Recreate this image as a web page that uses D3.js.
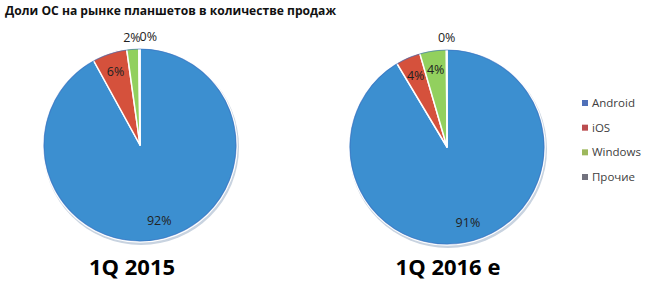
<!DOCTYPE html>
<html>
<head>
<meta charset="utf-8">
<script src="https://cdn.jsdelivr.net/npm/d3@7"></script>
<style>
  body { margin: 0; background: #fff; }
  text { font-family: "Open Sans", "Noto Sans", sans-serif; }
</style>
</head>
<body>
<div id="chart"></div>
<script>
// data
var osNames = ['Android', 'iOS', 'Windows', 'Прочие'];
var share2015 = [92.0, 5.8, 2.0, 0.2];
var share2016 = [91.4, 4.1, 4.4, 0.1];
var shareLabels2015 = ['92%', '6%', '2%', '0%'];
var shareLabels2016 = ['91%', '4%', '4%', '0%'];
var periods = ['1Q 2015', '1Q 2016 e'];
var title = 'Доли ОС на рынке планшетов в количестве продаж';

var pieColors = ['#3c8fd0', '#d5513c', '#92d05e', '#7c7c98'];
var legendColors = ['#4f70b8', '#bb4d50', '#9db85c', '#72727e'];

var w = 653, h = 284;
var svg = d3.select('#chart').append('svg')
    .attr('width', w)
    .attr('height', h);

svg.append('text')
    .attr('x', 5)
    .attr('y', 15)
    .attr('font-size', 12)
    .attr('font-weight', 'bold')
    .attr('fill', '#111')
    .attr('textLength', 331)
    .attr('lengthAdjust', 'spacingAndGlyphs')
    .text(title);

var color = d3.scaleOrdinal().domain(osNames).range(pieColors);

function drawPie(values, labels, cx, cy, r, period, px) {
    var rows = osNames.map(function(n, i) {
        return {name: n, value: values[i], label: labels[i]};
    });
    var pie = d3.pie().sort(null).value(function(d) { return d.value; });
    var arcs = pie(rows);
    var arc = d3.arc().innerRadius(0).outerRadius(r);

    var g = svg.append('g').attr('transform', 'translate(' + cx + ',' + cy + ')');

    // soft shadow under the pie
    g.append('circle')
        .attr('cx', 1).attr('cy', 2).attr('r', r + 1)
        .attr('fill', '#c8d3e0');

    g.selectAll('path.slice')
        .data(arcs)
        .enter().append('path')
            .attr('class', 'slice')
            .attr('d', arc)
            .attr('fill', function(d) { return color(d.data.name); })
            .attr('stroke', '#fff')
            .attr('stroke-width', 1.5)
            .attr('stroke-linejoin', 'round');

    // darker rim
    g.append('circle')
        .attr('r', r - 1)
        .attr('fill', 'none')
        .attr('stroke', '#3a6fc0')
        .attr('stroke-width', 1.2)
        .attr('opacity', 0.6);

    var prevBox = null;
    arcs.forEach(function(d) {
        var mid = (d.startAngle + d.endAngle) / 2;
        var outside = d.data.value < 3;
        var lr = outside ? r + 11 : r * 0.8;
        var x = Math.sin(mid) * lr;
        var y = -Math.cos(mid) * lr;
        var t = g.append('text')
            .attr('x', x)
            .attr('y', y)
            .attr('dy', '0.35em')
            .attr('text-anchor', 'middle')
            .attr('font-size', 12.5)
            .attr('fill', '#222')
            .text(d.data.label);
        if (outside) {
            var b = t.node().getBBox();
            if (prevBox && b.x < prevBox.x + prevBox.width) {
                t.attr('x', x + (prevBox.x + prevBox.width - b.x) - 1);
                b = t.node().getBBox();
            }
            prevBox = b;
        }
    });

    svg.append('text')
        .attr('x', px)
        .attr('y', 275)
        .attr('text-anchor', 'middle')
        .attr('font-size', 22)
        .attr('font-weight', 'bold')
        .attr('fill', '#000')
        .text(period);
}

drawPie(share2015, shareLabels2015, 140, 145, 97, periods[0], 132);
drawPie(share2016, shareLabels2016, 447, 147, 98, periods[1], 448);

// legend
var legend = svg.append('g');
var ly = d3.scalePoint().domain(osNames).range([103, 177]);
osNames.forEach(function(n, i) {
    legend.append('rect')
        .attr('x', 582)
        .attr('y', ly(n) - 3)
        .attr('width', 6)
        .attr('height', 6)
        .attr('fill', legendColors[i]);
    legend.append('text')
        .attr('x', 592)
        .attr('y', ly(n))
        .attr('dy', '0.35em')
        .attr('font-size', 11.5)
        .attr('fill', '#404040')
        .text(n);
});
</script>
</body>
</html>
